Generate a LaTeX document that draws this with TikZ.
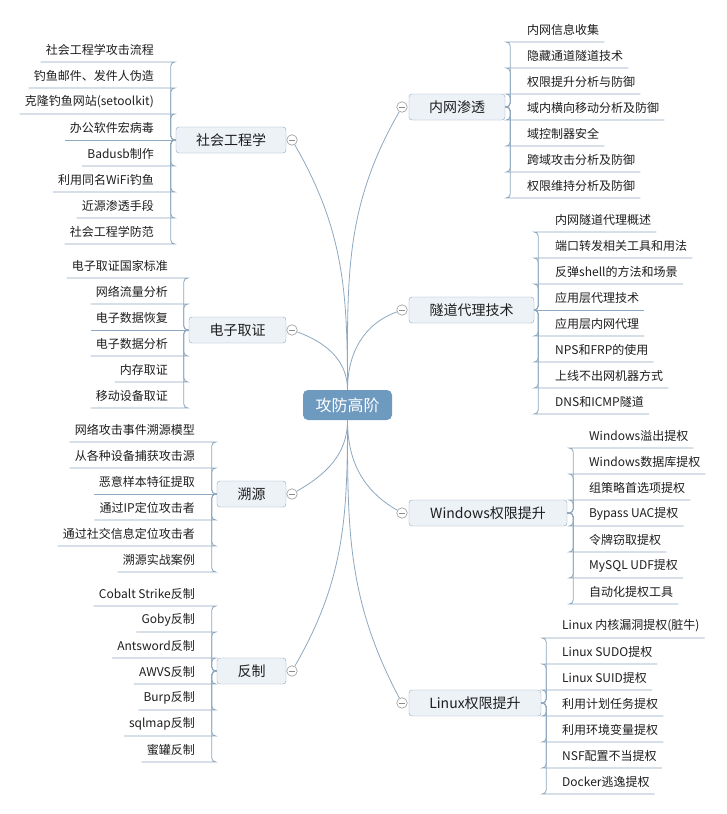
\documentclass[tikz,border=0pt]{standalone}
\usepackage{fontspec}
\setmainfont{Noto Sans CJK SC}

\definecolor{linkc}{HTML}{8EA8BF}
\definecolor{boxfill}{HTML}{EDF2F7}
\definecolor{boxline}{HTML}{90A6BC}
\definecolor{hubfill}{HTML}{6E9AC0}
\definecolor{textc}{HTML}{1E1E1E}

\tikzset{
	link/.style={draw=linkc, line width=0.8pt, rounded corners=4pt},
	trunk/.style={draw=linkc, line width=0.8pt},
	hub/.style={fill=hubfill, rounded corners=5pt, minimum width=89pt, minimum height=30pt,
		inner sep=0pt, text=white, font=\fontsize{16}{18}\selectfont},
	branch/.style={draw=boxline, fill=boxfill, rounded corners=3pt, minimum height=26pt,
		inner sep=0pt, text=textc, font=\fontsize{14}{16}\selectfont},
	item/.style={inner sep=0pt, minimum height=24pt, text=textc, font=\fontsize{12}{14}\selectfont},
	collapse/.style={circle, draw=gray!80, fill=white, line width=0.6pt, minimum size=10.5pt, inner sep=0pt,
		path picture={\draw[gray!90, line width=0.6pt] ([xshift=2pt]path picture bounding box.west) -- ([xshift=-2pt]path picture bounding box.east);}}
}

\begin{document}
\begin{tikzpicture}[x=1pt, y=1pt]
	\useasboundingbox (0,0) rectangle (727,-814);
	\fill[white] (0,0) rectangle (727,-814);

	% centre
	\node[hub] (hub) at (347.5,-405) {攻防高阶};

	% first level, right
	\node[branch, minimum width=96pt] (nw) at (457,-107) {内网渗透};
	\node[branch, minimum width=125pt] (sd) at (471.5,-310) {隧道代理技术};
	\node[branch, minimum width=158pt] (win) at (488,-513) {Windows权限提升};
	\node[branch, minimum width=132pt] (lin) at (475,-703) {Linux权限提升};
	% first level, left
	\node[branch, minimum width=110pt] (se) at (231,-140) {社会工程学};
	\node[branch, minimum width=97pt] (dz) at (237.5,-330) {电子取证};
	\node[branch, minimum width=69pt] (sy) at (251.5,-494) {溯源};
	\node[branch, minimum width=69pt] (fz) at (251.5,-671) {反制};

	\node[collapse] (nw-c) at (402,-107) {};
	\node[collapse] (sd-c) at (402,-310) {};
	\node[collapse] (win-c) at (402,-513) {};
	\node[collapse] (lin-c) at (402,-703) {};
	\node[collapse] (se-c) at (292,-140) {};
	\node[collapse] (dz-c) at (292,-330) {};
	\node[collapse] (sy-c) at (292,-494) {};
	\node[collapse] (fz-c) at (292,-671) {};

	\draw[trunk] (hub.north) to[out=90, in=240] (nw-c);
	\draw[trunk] (hub.north) to[out=90, in=200] (sd-c);
	\draw[trunk] (hub.south) to[out=-90, in=150] (win-c);
	\draw[trunk] (hub.south) to[out=-90, in=118] (lin-c);
	\draw[trunk] (hub.north) to[out=90, in=-60] (se-c);
	\draw[trunk] (hub.north) to[out=90, in=-20] (dz-c);
	\draw[trunk] (hub.south) to[out=-90, in=30] (sy-c);
	\draw[trunk] (hub.south) to[out=-90, in=60] (fz-c);

	% 内网渗透
	\node[item, anchor=south west] (nw1) at (527,-42) {内网信息收集};
	\node[item, anchor=south west] (nw2) at (527,-68) {隐藏通道隧道技术};
	\node[item, anchor=south west] (nw3) at (527,-94) {权限提升分析与防御};
	\node[item, anchor=south west] (nw4) at (527,-120) {域内横向移动分析及防御};
	\node[item, anchor=south west] (nw5) at (527,-146) {域控制器安全};
	\node[item, anchor=south west] (nw6) at (527,-172) {跨域攻击分析及防御};
	\node[item, anchor=south west] (nw7) at (527,-198) {权限维持分析及防御};
	\draw[link] (nw.east) -- ++(5,0) |- ([xshift=-17pt]nw1.south west) -- ([xshift=5pt]nw1.south east);
	\draw[link] (nw.east) -- ++(5,0) |- ([xshift=-17pt]nw2.south west) -- ([xshift=5pt]nw2.south east);
	\draw[link] (nw.east) -- ++(5,0) |- ([xshift=-17pt]nw3.south west) -- ([xshift=5pt]nw3.south east);
	\draw[link] (nw.east) -- ++(5,0) |- ([xshift=-17pt]nw4.south west) -- ([xshift=5pt]nw4.south east);
	\draw[link] (nw.east) -- ++(5,0) |- ([xshift=-17pt]nw5.south west) -- ([xshift=5pt]nw5.south east);
	\draw[link] (nw.east) -- ++(5,0) |- ([xshift=-17pt]nw6.south west) -- ([xshift=5pt]nw6.south east);
	\draw[link] (nw.east) -- ++(5,0) |- ([xshift=-17pt]nw7.south west) -- ([xshift=5pt]nw7.south east);

	% 隧道代理技术
	\node[item, anchor=south west] (sd1) at (555,-232) {内网隧道代理概述};
	\node[item, anchor=south west] (sd2) at (555,-258) {端口转发相关工具和用法};
	\node[item, anchor=south west] (sd3) at (555,-284) {反弹shell的方法和场景};
	\node[item, anchor=south west] (sd4) at (555,-310) {应用层代理技术};
	\node[item, anchor=south west] (sd5) at (555,-336) {应用层内网代理};
	\node[item, anchor=south west] (sd6) at (555,-362) {NPS和FRP的使用};
	\node[item, anchor=south west] (sd7) at (555,-388) {上线不出网机器方式};
	\node[item, anchor=south west] (sd8) at (555,-414) {DNS和ICMP隧道};
	\draw[link] (sd.east) -- ++(4,0) |- ([xshift=-17pt]sd1.south west) -- ([xshift=5pt]sd1.south east);
	\draw[link] (sd.east) -- ++(4,0) |- ([xshift=-17pt]sd2.south west) -- ([xshift=5pt]sd2.south east);
	\draw[link] (sd.east) -- ++(4,0) |- ([xshift=-17pt]sd3.south west) -- ([xshift=5pt]sd3.south east);
	\draw[link] (sd.east) -- ([xshift=5pt]sd4.south east);
	\draw[link] (sd.east) -- ++(4,0) |- ([xshift=-17pt]sd5.south west) -- ([xshift=5pt]sd5.south east);
	\draw[link] (sd.east) -- ++(4,0) |- ([xshift=-17pt]sd6.south west) -- ([xshift=5pt]sd6.south east);
	\draw[link] (sd.east) -- ++(4,0) |- ([xshift=-17pt]sd7.south west) -- ([xshift=5pt]sd7.south east);
	\draw[link] (sd.east) -- ++(4,0) |- ([xshift=-17pt]sd8.south west) -- ([xshift=5pt]sd8.south east);

	% Windows权限提升
	\node[item, anchor=south west] (win1) at (589,-448) {Windows溢出提权};
	\node[item, anchor=south west] (win2) at (589,-474) {Windows数据库提权};
	\node[item, anchor=south west] (win3) at (589,-500) {组策略首选项提权};
	\node[item, anchor=south west] (win4) at (589,-526) {Bypass UAC提权};
	\node[item, anchor=south west] (win5) at (589,-552) {令牌窃取提权};
	\node[item, anchor=south west] (win6) at (589,-578) {MySQL UDF提权};
	\node[item, anchor=south west] (win7) at (589,-604) {自动化提权工具};
	\draw[link] (win.east) -- ++(6,0) |- ([xshift=-16pt]win1.south west) -- ([xshift=5pt]win1.south east);
	\draw[link] (win.east) -- ++(6,0) |- ([xshift=-16pt]win2.south west) -- ([xshift=5pt]win2.south east);
	\draw[link] (win.east) -- ++(6,0) |- ([xshift=-16pt]win3.south west) -- ([xshift=5pt]win3.south east);
	\draw[link] (win.east) -- ++(6,0) |- ([xshift=-16pt]win4.south west) -- ([xshift=5pt]win4.south east);
	\draw[link] (win.east) -- ++(6,0) |- ([xshift=-16pt]win5.south west) -- ([xshift=5pt]win5.south east);
	\draw[link] (win.east) -- ++(6,0) |- ([xshift=-16pt]win6.south west) -- ([xshift=5pt]win6.south east);
	\draw[link] (win.east) -- ++(6,0) |- ([xshift=-16pt]win7.south west) -- ([xshift=5pt]win7.south east);

	% Linux权限提升
	\node[item, anchor=south west] (lin1) at (562,-638) {Linux 内核漏洞提权(脏牛)};
	\node[item, anchor=south west] (lin2) at (562,-664) {Linux SUDO提权};
	\node[item, anchor=south west] (lin3) at (562,-690) {Linux SUID提权};
	\node[item, anchor=south west] (lin4) at (562,-716) {利用计划任务提权};
	\node[item, anchor=south west] (lin5) at (562,-742) {利用环境变量提权};
	\node[item, anchor=south west] (lin6) at (562,-768) {NSF配置不当提权};
	\node[item, anchor=south west] (lin7) at (562,-794) {Docker逃逸提权};
	\draw[link] (lin.east) -- ++(5,0) |- ([xshift=-16pt]lin1.south west) -- ([xshift=5pt]lin1.south east);
	\draw[link] (lin.east) -- ++(5,0) |- ([xshift=-16pt]lin2.south west) -- ([xshift=5pt]lin2.south east);
	\draw[link] (lin.east) -- ++(5,0) |- ([xshift=-16pt]lin3.south west) -- ([xshift=5pt]lin3.south east);
	\draw[link] (lin.east) -- ++(5,0) |- ([xshift=-16pt]lin4.south west) -- ([xshift=5pt]lin4.south east);
	\draw[link] (lin.east) -- ++(5,0) |- ([xshift=-16pt]lin5.south west) -- ([xshift=5pt]lin5.south east);
	\draw[link] (lin.east) -- ++(5,0) |- ([xshift=-16pt]lin6.south west) -- ([xshift=5pt]lin6.south east);
	\draw[link] (lin.east) -- ++(5,0) |- ([xshift=-16pt]lin7.south west) -- ([xshift=5pt]lin7.south east);

	% 社会工程学
	\node[item, anchor=south east] (se1) at (154,-62) {社会工程学攻击流程};
	\node[item, anchor=south east] (se2) at (154,-88) {钓鱼邮件、发件人伪造};
	\node[item, anchor=south east] (se3) at (154,-114) {克隆钓鱼网站(setoolkit)};
	\node[item, anchor=south east] (se4) at (154,-140) {办公软件宏病毒};
	\node[item, anchor=south east] (se5) at (154,-166) {Badusb制作};
	\node[item, anchor=south east] (se6) at (154,-192) {利用同名WiFi钓鱼};
	\node[item, anchor=south east] (se7) at (154,-218) {近源渗透手段};
	\node[item, anchor=south east] (se8) at (154,-244) {社会工程学防范};
	\draw[link] (se.west) -- ++(-5,0) |- ([xshift=17pt]se1.south east) -- ([xshift=-5pt]se1.south west);
	\draw[link] (se.west) -- ++(-5,0) |- ([xshift=17pt]se2.south east) -- ([xshift=-5pt]se2.south west);
	\draw[link] (se.west) -- ++(-5,0) |- ([xshift=17pt]se3.south east) -- ([xshift=-5pt]se3.south west);
	\draw[link] (se.west) -- ([xshift=-5pt]se4.south west);
	\draw[link] (se.west) -- ++(-5,0) |- ([xshift=17pt]se5.south east) -- ([xshift=-5pt]se5.south west);
	\draw[link] (se.west) -- ++(-5,0) |- ([xshift=17pt]se6.south east) -- ([xshift=-5pt]se6.south west);
	\draw[link] (se.west) -- ++(-5,0) |- ([xshift=17pt]se7.south east) -- ([xshift=-5pt]se7.south west);
	\draw[link] (se.west) -- ++(-5,0) |- ([xshift=17pt]se8.south east) -- ([xshift=-5pt]se8.south west);

	% 电子取证
	\node[item, anchor=south east] (dz1) at (168,-278) {电子取证国家标准};
	\node[item, anchor=south east] (dz2) at (168,-304) {网络流量分析};
	\node[item, anchor=south east] (dz3) at (168,-330) {电子数据恢复};
	\node[item, anchor=south east] (dz4) at (168,-356) {电子数据分析};
	\node[item, anchor=south east] (dz5) at (168,-382) {内存取证};
	\node[item, anchor=south east] (dz6) at (168,-408) {移动设备取证};
	\draw[link] (dz.west) -- ++(-5,0) |- ([xshift=16pt]dz1.south east) -- ([xshift=-5pt]dz1.south west);
	\draw[link] (dz.west) -- ++(-5,0) |- ([xshift=16pt]dz2.south east) -- ([xshift=-5pt]dz2.south west);
	\draw[link] (dz.west) -- ([xshift=-5pt]dz3.south west);
	\draw[link] (dz.west) -- ++(-5,0) |- ([xshift=16pt]dz4.south east) -- ([xshift=-5pt]dz4.south west);
	\draw[link] (dz.west) -- ++(-5,0) |- ([xshift=16pt]dz5.south east) -- ([xshift=-5pt]dz5.south west);
	\draw[link] (dz.west) -- ++(-5,0) |- ([xshift=16pt]dz6.south east) -- ([xshift=-5pt]dz6.south west);

	% 溯源
	\node[item, anchor=south east] (sy1) at (195,-442) {网络攻击事件溯源模型};
	\node[item, anchor=south east] (sy2) at (195,-468) {从各种设备捕获攻击源};
	\node[item, anchor=south east] (sy3) at (195,-494) {恶意样本特征提取};
	\node[item, anchor=south east] (sy4) at (195,-520) {通过IP定位攻击者};
	\node[item, anchor=south east] (sy5) at (195,-546) {通过社交信息定位攻击者};
	\node[item, anchor=south east] (sy6) at (195,-572) {溯源实战案例};
	\draw[link] (sy.west) -- ++(-5,0) |- ([xshift=17pt]sy1.south east) -- ([xshift=-5pt]sy1.south west);
	\draw[link] (sy.west) -- ++(-5,0) |- ([xshift=17pt]sy2.south east) -- ([xshift=-5pt]sy2.south west);
	\draw[link] (sy.west) -- ([xshift=-5pt]sy3.south west);
	\draw[link] (sy.west) -- ++(-5,0) |- ([xshift=17pt]sy4.south east) -- ([xshift=-5pt]sy4.south west);
	\draw[link] (sy.west) -- ++(-5,0) |- ([xshift=17pt]sy5.south east) -- ([xshift=-5pt]sy5.south west);
	\draw[link] (sy.west) -- ++(-5,0) |- ([xshift=17pt]sy6.south east) -- ([xshift=-5pt]sy6.south west);

	% 反制
	\node[item, anchor=south east] (fz1) at (195,-606) {Cobalt Strike反制};
	\node[item, anchor=south east] (fz2) at (195,-632) {Goby反制};
	\node[item, anchor=south east] (fz3) at (195,-658) {Antsword反制};
	\node[item, anchor=south east] (fz4) at (195,-684) {AWVS反制};
	\node[item, anchor=south east] (fz5) at (195,-710) {Burp反制};
	\node[item, anchor=south east] (fz6) at (195,-736) {sqlmap反制};
	\node[item, anchor=south east] (fz7) at (195,-762) {蜜罐反制};
	\draw[link] (fz.west) -- ++(-5,0) |- ([xshift=17pt]fz1.south east) -- ([xshift=-5pt]fz1.south west);
	\draw[link] (fz.west) -- ++(-5,0) |- ([xshift=17pt]fz2.south east) -- ([xshift=-5pt]fz2.south west);
	\draw[link] (fz.west) -- ++(-5,0) |- ([xshift=17pt]fz3.south east) -- ([xshift=-5pt]fz3.south west);
	\draw[link] (fz.west) -- ++(-5,0) |- ([xshift=17pt]fz4.south east) -- ([xshift=-5pt]fz4.south west);
	\draw[link] (fz.west) -- ++(-5,0) |- ([xshift=17pt]fz5.south east) -- ([xshift=-5pt]fz5.south west);
	\draw[link] (fz.west) -- ++(-5,0) |- ([xshift=17pt]fz6.south east) -- ([xshift=-5pt]fz6.south west);
	\draw[link] (fz.west) -- ++(-5,0) |- ([xshift=17pt]fz7.south east) -- ([xshift=-5pt]fz7.south west);
\end{tikzpicture}
\end{document}
